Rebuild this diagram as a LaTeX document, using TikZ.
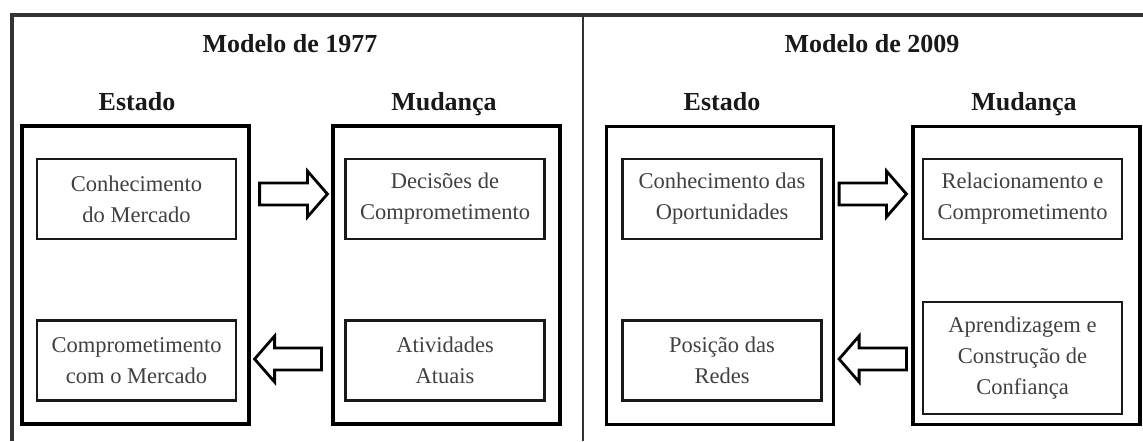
\documentclass[tikz,border=0pt]{standalone}
\usepackage{fontspec}
\setmainfont{Liberation Serif}
\usetikzlibrary{calc}
\tikzset{
  frameline/.style={draw=black!80, line width=1.2pt},
  outerbox/.style={draw=black, line width=1.6pt, minimum width=113.5pt, minimum height=149pt, inner sep=0pt},
  innerbox/.style={draw=black!90, line width=1.2pt, minimum width=99.5pt, minimum height=40pt, inner sep=0pt,
     align=center, text=black!75, font=\fontsize{11.25}{15.5}\selectfont},
  heading/.style={anchor=base, font=\fontsize{13}{15}\selectfont\bfseries, text=black!90, inner sep=0pt},
  barrow/.style={draw=black, line width=1.4pt, fill=white, line join=miter},
}
% #1 tail, #2 tip, #3 sign from tip to head base
\newcommand\blockarrow[3]{%
  \draw[barrow] let \p1=(#1), \p2=(#2) in
    (\x1,\y1+5.5pt) -- (\x2#310pt,\y1+5.5pt) -- (\x2#310pt,\y1+11.5pt) -- (\x2,\y1)
    -- (\x2#310pt,\y1-11.5pt) -- (\x2#310pt,\y1-5.5pt) -- (\x1,\y1-5.5pt) -- cycle;}
\begin{document}
\begin{tikzpicture}[x=0.5pt,y=-0.5pt]
\useasboundingbox (0,0) rectangle (1143,441);
% frame
\draw[frameline, line width=1.7pt] (12,441) -- (12,15) -- (1143,15);
\draw[frameline] (583,15) -- (583,441);
% headings
\node[heading] (t1) at (290,52) {Modelo de 1977};
\node[heading] (t2) at (872,52) {Modelo de 2009};
\node[heading] (h1) at (137,110) {Estado};
\node[heading] (h2) at (444,110) {Mudança};
\node[heading] (h3) at (722,110) {Estado};
\node[heading] (h4) at (1024,110) {Mudança};
% outer boxes
\node[outerbox] (LE) at (135.5,275) {};
\node[outerbox] (LM) at (446.5,275) {};
\node[outerbox] (RE) at (720,275.5) {};
\node[outerbox] (RM) at (1026.5,275.5) {};
% inner boxes
\node[innerbox] (CM) at (136.5,199) {Conhecimento\\do Mercado};
\node[innerbox] (CoM) at (136.5,360.5) {Comprometimento\\com o Mercado};
\node[innerbox] (DC) at (445,199) {Decisões de\\Comprometimento};
\node[innerbox] (AA) at (445,360.5) {Atividades\\Atuais};
\node[innerbox] (CO) at (722,199) {Conhecimento das\\Oportunidades};
\node[innerbox] (PR) at (722,360.5) {Posição das\\Redes};
\node[innerbox] (RC) at (1022.5,199) {Relacionamento e\\Comprometimento};
\node[innerbox, minimum height=56pt] (AC) at (1022.5,358) {Aprendizagem e\\Construção de\\Confiança};
% arrow end points
\coordinate (a1t) at ($(LE.east |- 0,194)+(9,0)$);
\coordinate (a1h) at ($(LM.west |- 0,194)+(-4,0)$);
\coordinate (a2t) at ($(LM.west |- 0,359)+(-10,0)$);
\coordinate (a2h) at ($(LE.east |- 0,359)+(4,0)$);
\coordinate (a3t) at ($(RE.east |- 0,194)+(4,0)$);
\coordinate (a3h) at ($(RM.west |- 0,194)+(-5,0)$);
\coordinate (a4t) at ($(RM.west |- 0,359)+(-5,0)$);
\coordinate (a4h) at ($(RE.east |- 0,359)+(4,0)$);
\blockarrow{a1t}{a1h}{-}
\blockarrow{a2t}{a2h}{+}
\blockarrow{a3t}{a3h}{-}
\blockarrow{a4t}{a4h}{+}
\end{tikzpicture}
\end{document}
